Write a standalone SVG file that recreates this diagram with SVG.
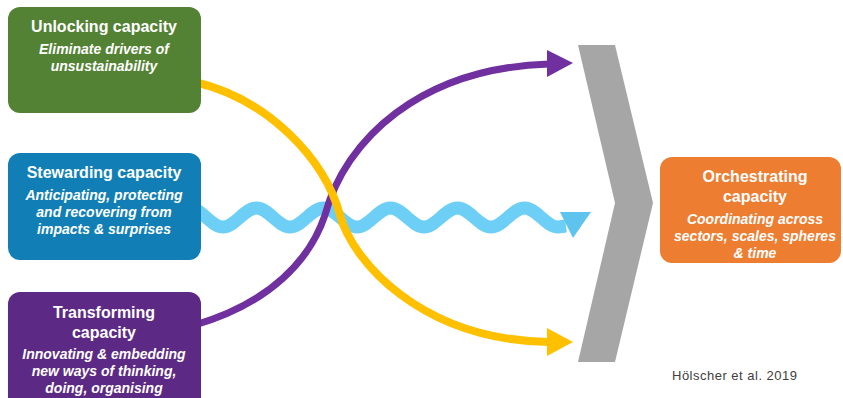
<svg xmlns="http://www.w3.org/2000/svg" width="843" height="398" viewBox="0 0 843 398">
<style>
.t{font-family:"Liberation Sans",Arial,sans-serif;font-weight:bold;font-size:16px;fill:#fff;text-anchor:middle}
.s{font-family:"Liberation Sans",Arial,sans-serif;font-weight:bold;font-style:italic;font-size:14px;fill:#fff;text-anchor:middle}
.cite{font-family:"Liberation Sans",Arial,sans-serif;font-size:13px;fill:#404040}
</style>
<rect width="843" height="398" fill="#fff"/>
<g id="connectors">
  <path id="wave" d="M189.5,208 c12,0 21.5,19 33.5,19 s21.5,-19 33.5,-19 s21.5,19 33.5,19 s21.5,-19 33.5,-19 s21.5,19 33.5,19 s21.5,-19 33.5,-19 s21.5,19 33.5,19 s21.5,-19 33.5,-19 s21.5,19 33.5,19 s21.5,-19 33.5,-19 s21.5,19 33.5,19 l8,-1" fill="none" stroke="#6DCFF6" stroke-width="13"/>
  <polygon points="560,212 591,212 573,238" fill="#5EC4EE"/>
  <path id="purple" d="M195,325 C270,303 310,260 325,215 C345,140 420,68 549,64" fill="none" stroke="#7030A0" stroke-width="7"/>
  <polygon points="547,50 573,63 547,77" fill="#7030A0"/>
  <path id="yellow" d="M195,82 C270,100 325,160 340,215 C352,260 420,340 549,342" fill="none" stroke="#FFC000" stroke-width="8"/>
  <polygon points="547,328 573,342 547,356" fill="#FFC000"/>
</g>
<g id="chevron">
  <polygon points="578,45 615,45 653,203 615,362 578,362 615,203" fill="#A6A6A6"/>
</g>
<g id="unlocking">
  <rect x="8" y="7" width="193" height="106" rx="12" fill="#548235"/>
  <text class="t" x="104" y="32">Unlocking capacity</text>
  <text class="s" x="104" y="54">Eliminate drivers of</text>
  <text class="s" x="104" y="71">unsustainability</text>
</g>
<g id="stewarding">
  <rect x="8" y="153" width="193" height="107" rx="12" fill="#117FB6"/>
  <text class="t" x="104" y="178">Stewarding capacity</text>
  <text class="s" x="104" y="200">Anticipating, protecting</text>
  <text class="s" x="104" y="217">and recovering from</text>
  <text class="s" x="104" y="234">impacts &amp; surprises</text>
</g>
<g id="transforming">
  <rect x="8" y="292" width="193" height="125" rx="12" fill="#5C2A84"/>
  <text class="t" x="104" y="318">Transforming</text>
  <text class="t" x="104" y="338">capacity</text>
  <text class="s" x="104" y="359">Innovating &amp; embedding</text>
  <text class="s" x="104" y="376">new ways of thinking,</text>
  <text class="s" x="104" y="393">doing, organising</text>
</g>
<g id="orchestrating">
  <rect x="660" y="157" width="181" height="106" rx="12" fill="#ED7D31"/>
  <text class="t" x="755" y="182">Orchestrating</text>
  <text class="t" x="755" y="202">capacity</text>
  <text class="s" x="755" y="224">Coordinating across</text>
  <text class="s" x="755" y="241">sectors, scales, spheres</text>
  <text class="s" x="755" y="258">&amp; time</text>
</g>
<text class="cite" x="672" y="380" textLength="125">Hölscher et al. 2019</text>
</svg>
